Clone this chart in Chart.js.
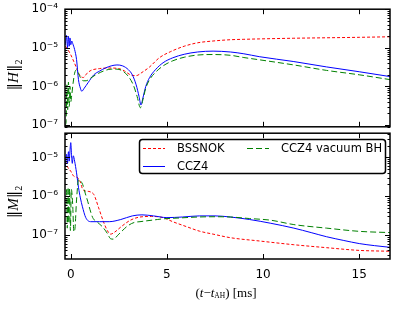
<!DOCTYPE html>
<html>
<head>
<meta charset="utf-8">
<script src="https://cdn.jsdelivr.net/npm/chart.js@4.4.1/dist/chart.umd.min.js"></script>
<style>
  body { margin: 0; background: #fff; width: 407px; height: 313px; overflow: hidden; position: relative; }
  canvas { position: absolute; left: 0; }
</style>
</head>
<body>
<canvas id="hChart" width="407" height="146" style="top:-5px"></canvas>
<canvas id="mChart" width="407" height="194" style="top:119px"></canvas>
<script>
// ---- data ---------------------------------------------------------------
const xTicks = [0, 5, 10, 15];
const hTicks = [1e-7, 1e-6, 1e-5, 1e-4];
const hTickLabels = ['10⁻⁷', '10⁻⁶', '10⁻⁵', '10⁻⁴'];
const mTicks = [1e-7, 1e-6, 1e-5];
const mTickLabels = ['10⁻⁷', '10⁻⁶', '10⁻⁵'];
const seriesNames = ['BSSNOK', 'CCZ4', 'CCZ4 vacuum BH'];

// ||H||_2
const tBssnokH = [-0.28, -0.15, 0.0, 0.15, 0.3, 0.45, 0.65, 0.85, 1.05, 1.5, 2.0, 2.5, 2.8, 3.1, 3.4, 3.7, 4.1, 4.6, 5.2, 5.9, 6.6, 7.4, 8.3, 9.0, 9.8, 11.6, 13.3, 15.0, 16.6];
const bssnokH = [1.1e-5, 9e-6, 6.6e-6, 4.5e-6, 3.0e-6, 2.0e-6, 1.7e-6, 2.2e-6, 2.6e-6, 2.9e-6, 3.0e-6, 2.9e-6, 2.5e-6, 2.0e-6, 1.9e-6, 2.3e-6, 3.2e-6, 5.5e-6, 8e-6, 1.1e-5, 1.35e-5, 1.5e-5, 1.62e-5, 1.66e-5, 1.7e-5, 1.77e-5, 1.82e-5, 1.87e-5, 1.93e-5];

const tCcz4H = [-0.28, -0.22, -0.17, -0.12, -0.08, -0.04, 0.0, 0.05, 0.1, 0.2, 0.3, 0.4, 0.5, 0.57, 0.7, 0.9, 1.2, 1.5, 1.8, 2.1, 2.4, 2.7, 3.0, 3.2, 3.4, 3.55, 3.65, 3.75, 3.9, 4.1, 4.4, 4.8, 5.3, 5.9, 6.6, 7.4, 8.3, 9.0, 9.8, 11.6, 13.3, 15.0, 16.6];
const ccz4H = [1.2e-5, 2.1e-5, 1.0e-5, 2.0e-5, 1.1e-5, 1.8e-5, 1.2e-5, 1.5e-5, 1.3e-5, 9e-6, 5e-6, 1.5e-6, 9e-7, 7.5e-7, 9e-7, 1.25e-6, 2.0e-6, 2.5e-6, 3.0e-6, 3.4e-6, 3.6e-6, 3.4e-6, 2.7e-6, 2.0e-6, 1.1e-6, 5.5e-7, 3.3e-7, 5e-7, 1.0e-6, 1.7e-6, 2.7e-6, 4.1e-6, 5.5e-6, 6.8e-6, 7.8e-6, 8.2e-6, 7.8e-6, 7.0e-6, 5.9e-6, 4.4e-6, 3.2e-6, 2.4e-6, 1.8e-6];

const tVacH = [-0.28, -0.24, -0.2, -0.16, -0.12, -0.08, -0.04, 0.0, 0.05, 0.12, 0.2, 0.3, 0.4, 0.5, 0.65, 0.8, 1.0, 1.3, 1.7, 2.1, 2.4, 2.7, 3.0, 3.25, 3.45, 3.62, 3.75, 3.9, 4.1, 4.4, 4.8, 5.3, 5.9, 6.6, 7.4, 8.3, 9.0, 9.8, 11.6, 13.3, 15.0, 16.6];
const vacH = [1.0e-7, 1.3e-7, 1.1e-6, 2.5e-7, 1.3e-6, 3e-7, 1.0e-6, 4e-7, 6e-7, 1.2e-6, 2.2e-6, 2.7e-6, 2.2e-6, 1.7e-6, 1.4e-6, 1.4e-6, 1.6e-6, 2.0e-6, 2.5e-6, 2.8e-6, 2.8e-6, 2.5e-6, 1.8e-6, 1.1e-6, 5.5e-7, 2.8e-7, 4.5e-7, 9e-7, 1.5e-6, 2.3e-6, 3.4e-6, 4.6e-6, 5.7e-6, 6.5e-6, 6.7e-6, 6.4e-6, 5.6e-6, 4.9e-6, 3.6e-6, 2.6e-6, 2.0e-6, 1.5e-6];

// ||M||_2
const tBssnokM = [-0.28, -0.15, 0.0, 0.15, 0.36, 0.5, 0.62, 0.8, 1.0, 1.2, 1.45, 1.7, 1.9, 2.07, 2.3, 2.6, 3.1, 3.6, 4.2, 4.8, 5.3, 6.0, 6.7, 7.4, 8.3, 9.8, 11.6, 13.3, 15.0, 16.6];
const bssnokM = [8e-6, 5.5e-6, 4.4e-6, 3.3e-6, 3.0e-6, 2.3e-6, 1.5e-6, 1.35e-6, 1.3e-6, 1.1e-6, 5e-7, 2.2e-7, 1.3e-7, 1.05e-7, 1.2e-7, 1.6e-7, 2.4e-7, 2.9e-7, 3.0e-7, 2.8e-7, 2.2e-7, 1.65e-7, 1.25e-7, 1.05e-7, 8.5e-8, 7e-8, 5.6e-8, 4.7e-8, 4.0e-8, 3.8e-8];

const tCcz4M = [-0.28, -0.22, -0.17, -0.12, -0.08, -0.04, 0.0, 0.04, 0.08, 0.13, 0.2, 0.3, 0.4, 0.5, 0.6, 0.78, 1.04, 1.5, 2.0, 2.6, 3.2, 3.7, 4.3, 5.0, 5.8, 6.7, 7.5, 8.3, 9.3, 10.4, 11.6, 12.5, 13.3, 14.2, 15.0, 15.8, 16.6];
const ccz4M = [6e-6, 1.2e-5, 7e-6, 1.4e-5, 8e-6, 1.5e-5, 2.4e-5, 1.1e-5, 7e-6, 1.1e-5, 8e-6, 4e-6, 1.7e-6, 9e-7, 5.5e-7, 2.8e-7, 2.2e-7, 2.2e-7, 2.2e-7, 2.5e-7, 3.1e-7, 3.3e-7, 3.1e-7, 2.8e-7, 2.9e-7, 3.1e-7, 3.1e-7, 2.9e-7, 2.5e-7, 2.0e-7, 1.5e-7, 1.15e-7, 9e-8, 7.2e-8, 6e-8, 5.3e-8, 4.8e-8];

const tVacM = [-0.22, -0.18, -0.14, -0.1, -0.06, -0.02, 0.03, 0.1, 0.16, 0.22, 0.3, 0.41, 0.5, 0.62, 0.75, 0.88, 1.0, 1.14, 1.4, 1.66, 1.9, 2.07, 2.2, 2.5, 2.95, 3.3, 3.6, 4.5, 4.8, 5.7, 6.6, 7.5, 8.3, 9.3, 10.4, 11.6, 13.3, 15.0, 16.6];
const vacM = [1.5e-6, 1.5e-7, 1.7e-6, 2e-7, 1.6e-6, 1.3e-7, 1.5e-6, 6e-7, 1.2e-7, 1.5e-7, 8e-7, 2.7e-6, 2.5e-6, 2.0e-6, 1.2e-6, 7.4e-7, 4.5e-7, 2.8e-7, 2.1e-7, 1.6e-7, 1.1e-7, 8e-8, 7.8e-8, 1.05e-7, 1.7e-7, 2.1e-7, 2.2e-7, 2.5e-7, 2.6e-7, 2.75e-7, 2.9e-7, 2.95e-7, 2.9e-7, 2.65e-7, 2.4e-7, 1.85e-7, 1.5e-7, 1.24e-7, 1.15e-7];

// ---- styling -------------------------------------------------------------
const RED = '#ff0000', BLUE = '#0000ff', GREEN = '#008000';
const styles = [
  { color: RED, dash: [3, 2] },
  { color: BLUE, dash: [] },
  { color: GREEN, dash: [6, 3] }
];
const TICK_FONT = { family: '"DejaVu Sans"', size: 12 };
const SERIF = '"Liberation Serif", "DejaVu Serif", serif';

function pts(ts, vs) {
  return ts.map((t, i) => ({ x: t, y: vs[i] }));
}

function makeDatasets(series) {
  return series.map((d, i) => ({
    label: seriesNames[i],
    data: d,
    borderColor: styles[i].color,
    borderDash: styles[i].dash,
    borderWidth: 1,
    pointRadius: 0,
    fill: false,
    cubicInterpolationMode: 'monotone',
    order: 3 - i
  }));
}

// draw text pieces one after another, centred on (x, y)
function drawRuns(ctx, runs, x, y) {
  let total = 0;
  runs.forEach(r => { ctx.font = r.font; r.w = ctx.measureText(r.text).width; total += r.w; });
  let cx = x - total / 2;
  ctx.textAlign = 'left';
  ctx.textBaseline = 'middle';
  runs.forEach(r => { ctx.font = r.font; ctx.fillText(r.text, cx, y + (r.dy || 0)); cx += r.w; });
}

function drawYTitle(ctx, letter, x, y) {
  ctx.save();
  ctx.translate(x, y);
  ctx.rotate(-Math.PI / 2);
  ctx.fillStyle = '#000';
  drawRuns(ctx, [
    { text: '‖', font: '15px "DejaVu Serif"' },
    { text: letter, font: 'italic 15px ' + SERIF },
    { text: '‖', font: '15px "DejaVu Serif"' },
    { text: '2', font: '10px ' + SERIF, dy: 5 }
  ], 0, 0);
  ctx.restore();
}

// matplotlib-like frame with inward ticks
const frameTicks = {
  id: 'frameTicks',
  afterDatasetsDraw(chart) {
    const { ctx, chartArea: a, scales: { x, y } } = chart;
    ctx.save();
    ctx.strokeStyle = '#000';
    ctx.lineWidth = 1;
    const seg = (x1, y1, x2, y2) => { ctx.beginPath(); ctx.moveTo(x1, y1); ctx.lineTo(x2, y2); ctx.stroke(); };
    xTicks.forEach(v => {
      const px = Math.round(x.getPixelForValue(v)) + 0.5;
      seg(px, a.top, px, a.top + 5);
      seg(px, a.bottom, px, a.bottom - 5);
    });
    for (let e = -9; e <= -3; e++) {
      for (let m = 1; m < 10; m++) {
        const v = m * Math.pow(10, e);
        if (v < y.min || v > y.max) continue;
        const py = Math.round(y.getPixelForValue(v)) + 0.5;
        const len = m === 1 ? 5 : 2.5;
        seg(a.left, py, a.left + len, py);
        seg(a.right, py, a.right - len, py);
      }
    }
    ctx.lineWidth = 1.5;
    ctx.strokeRect(a.left, a.top, a.right - a.left, a.bottom - a.top);
    ctx.restore();
  }
};

function baseOptions(yMin, yMax, yTicks, yLabels, showX, padding) {
  return {
    responsive: false,
    animation: false,
    devicePixelRatio: 1,
    layout: { padding: padding },
    plugins: { legend: { display: false }, tooltip: { enabled: false } },
    scales: {
      x: {
        type: 'linear',
        min: -0.3,
        max: 16.6,
        display: showX,
        grid: { display: false, drawTicks: false },
        border: { display: false },
        ticks: { font: TICK_FONT, color: '#000', padding: 9, maxRotation: 0 },
        afterBuildTicks: s => { s.ticks = xTicks.map(v => ({ value: v })); },
        afterFit: s => { if (showX) s.height = 54; }
      },
      y: {
        type: 'logarithmic',
        min: yMin,
        max: yMax,
        grid: { display: false, drawTicks: false },
        border: { display: false },
        ticks: {
          font: TICK_FONT,
          color: '#000',
          padding: 7,
          callback: (v, i) => yLabels[i]
        },
        afterBuildTicks: s => { s.ticks = yTicks.map(v => ({ value: v })); },
        afterFit: s => { s.width = 65; }
      }
    }
  };
}

// ---- top panel: ||H||_2 ----------------------------------------------------
new Chart(document.getElementById('hChart'), {
  type: 'line',
  data: {
    datasets: makeDatasets([pts(tBssnokH, bssnokH), pts(tCcz4H, ccz4H), pts(tVacH, vacH)])
  },
  options: baseOptions(9e-8, 1e-4, hTicks, hTickLabels, false, { left: 0, right: 17, top: 14, bottom: 14 }),
  plugins: [frameTicks, {
    id: 'hTitle',
    afterDraw(chart) { drawYTitle(chart.ctx, 'H', 14, 80); }
  }]
});

// ---- bottom panel: ||M||_2 -------------------------------------------------
const legendPlugin = {
  id: 'boxLegend',
  afterDraw(chart) {
    const ctx = chart.ctx;
    ctx.save();
    // box
    ctx.fillStyle = '#fff';
    ctx.strokeStyle = '#000';
    ctx.lineWidth = 1.5;
    ctx.beginPath();
    ctx.roundRect(139.5, 20.5, 246, 34, 3);
    ctx.fill();
    ctx.stroke();
    // entries: [x0, y] for sample line, text follows
    const slots = [[143, 29], [143, 47], [247, 29]];
    chart.data.datasets.forEach((ds, i) => {
      const [sx, sy] = slots[i];
      ctx.strokeStyle = ds.borderColor;
      ctx.lineWidth = 1;
      ctx.setLineDash(ds.borderDash);
      ctx.beginPath();
      ctx.moveTo(sx, sy + 0.5);
      ctx.lineTo(sx + 22, sy + 0.5);
      ctx.stroke();
      ctx.setLineDash([]);
      ctx.fillStyle = '#000';
      ctx.font = '11.5px "DejaVu Sans"';
      ctx.textAlign = 'left';
      ctx.textBaseline = 'middle';
      ctx.fillText(ds.label, sx + 34, sy + 1);
    });
    // axis titles
    drawYTitle(ctx, 'M', 14, 83);
    ctx.fillStyle = '#000';
    drawRuns(ctx, [
      { text: '(', font: '13px ' + SERIF },
      { text: 't', font: 'italic 13px ' + SERIF },
      { text: '−', font: '13px ' + SERIF },
      { text: 't', font: 'italic 13px ' + SERIF },
      { text: 'AH', font: '7.5px ' + SERIF, dy: 2 },
      { text: ')', font: '13px ' + SERIF },
      { text: ' [ms]', font: '13px ' + SERIF }
    ], 226, 175);
    ctx.restore();
  }
};

new Chart(document.getElementById('mChart'), {
  type: 'line',
  data: {
    datasets: makeDatasets([pts(tBssnokM, bssnokM), pts(tCcz4M, ccz4M), pts(tVacM, vacM)])
  },
  options: baseOptions(2.4e-8, 4.2e-5, mTicks, mTickLabels, true, { left: 0, right: 17, top: 14, bottom: 0 }),
  plugins: [frameTicks, legendPlugin]
});
</script>
</body>
</html>
